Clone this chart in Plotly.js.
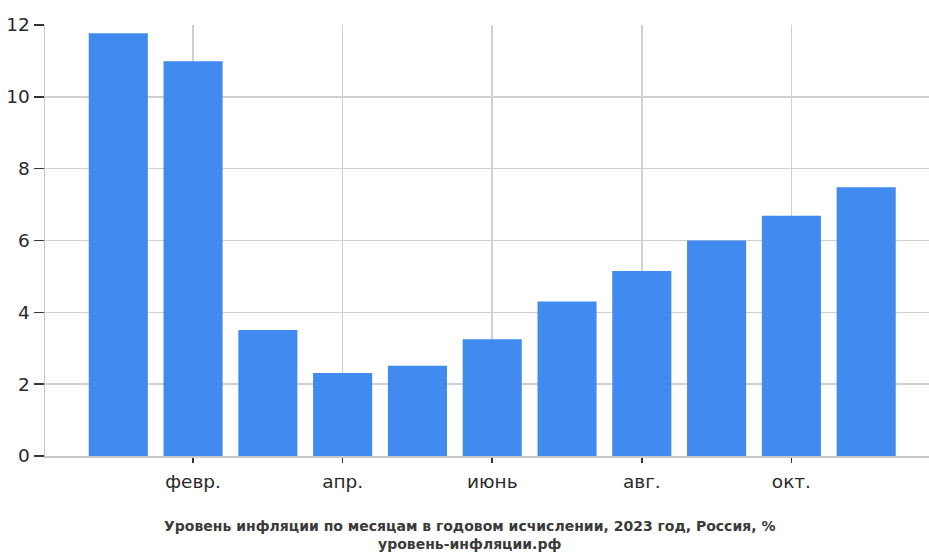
<!DOCTYPE html>
<html>
<head>
<meta charset="utf-8">
<script src="https://cdn.plot.ly/plotly-3.0.1.min.js"></script>
<style>html,body{margin:0;padding:0;background:#fff;}#chart{width:929px;height:552px;}</style>
</head>
<body>
<div id="chart"></div>
<script>
const months = ['янв.', 'февр.', 'март', 'апр.', 'май', 'июнь', 'июль', 'авг.', 'сент.', 'окт.', 'нояб.'];
const inflation = [11.77, 10.99, 3.51, 2.31, 2.51, 3.25, 4.30, 5.15, 6.00, 6.69, 7.48];
const shownTicks = ['февр.', 'апр.', 'июнь', 'авг.', 'окт.'];
const yTicks = [0, 2, 4, 6, 8, 10, 12];
const titleLines = ['Уровень инфляции по месяцам в годовом исчислении, 2023 год, Россия, %', 'уровень-инфляции.рф'];

const trace = {
  type: 'bar',
  x: months,
  y: inflation,
  marker: {color: '#418AEF', line: {width: 0}},
  width: 0.79,
  hoverinfo: 'x+y'
};

const layout = {
  width: 929, height: 552,
  margin: {l: 45, r: 0, t: 25, b: 96},
  paper_bgcolor: '#fff', plot_bgcolor: '#fff',
  font: {family: 'DejaVu Sans, sans-serif', color: '#333'},
  showlegend: false,
  xaxis: {
    type: 'category',
    range: [-0.98, 10.84],
    tickmode: 'array',
    tickvals: shownTicks,
    ticktext: shownTicks,
    showgrid: true, gridcolor: '#d0d0d0', gridwidth: 1.5,
    showline: true, linecolor: '#c8c8c8', linewidth: 1.5,
    ticks: 'outside', ticklen: 5, tickcolor: '#333', tickwidth: 1.5,
    tickfont: {size: 18.5, color: '#2a2a2a'},
    ticklabelstandoff: 3,
    zeroline: false
  },
  yaxis: {
    range: [0, 12],
    tickmode: 'array',
    tickvals: yTicks,
    showgrid: true, gridcolor: '#d0d0d0', gridwidth: 1.5,
    showline: true, linecolor: '#c8c8c8', linewidth: 1.5,
    ticks: 'outside', ticklen: 10, tickcolor: '#333', tickwidth: 1.5,
    tickfont: {size: 18.5, color: '#2a2a2a'},
    ticklabelstandoff: 0,
    zeroline: false
  },
  annotations: [{
    xref: 'paper', yref: 'paper',
    x: (469 - 45) / 884, y: -0.1833,
    xanchor: 'center', yanchor: 'middle',
    text: titleLines.join('<br>'),
    showarrow: false,
    font: {size: 14, color: '#3a3a3a', family: 'DejaVu Sans, sans-serif', weight: 'bold'}
  }]
};

Plotly.newPlot('chart', [trace], layout, {displayModeBar: false, staticPlot: true});
</script>
</body>
</html>
